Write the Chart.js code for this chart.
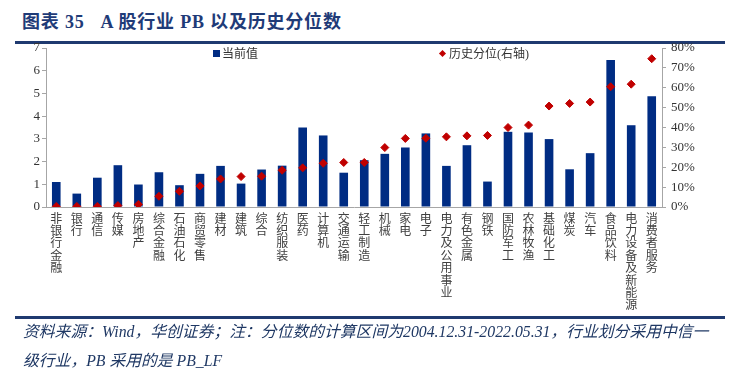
<!DOCTYPE html>
<html>
<head>
<meta charset="utf-8">
<script src="https://cdn.jsdelivr.net/npm/chart.js@4.4.0/dist/chart.umd.min.js"></script>
<style>
  body { margin: 0; background: #fff; }
  #wrap { position: relative; width: 731px; height: 374px; overflow: hidden; }
  #chart { position: absolute; left: 0; top: 0; }
  .title { position: absolute; left: 22px; top: 11px; font: bold 18px/22px "Liberation Serif", "Noto Sans CJK SC"; letter-spacing: 0.8px; color: #1f3b78; white-space: pre; }
  .rule { position: absolute; left: 15px; width: 710px; height: 3px; background: #1f3a70; }
  .note { position: absolute; left: 23px; top: 317px; font: italic 15.8px/29px "Liberation Serif", "Noto Sans CJK SC"; color: #1f3864; white-space: pre; }
  .legend { position: absolute; top: 44px; font: 12px "Liberation Serif", "Noto Sans CJK SC"; color: #333; white-space: pre; }
  .sq { display: inline-block; width: 7px; height: 7px; background: #002c83; margin-right: 2px; vertical-align: 1px; }
  .dm { display: inline-block; width: 5px; height: 5px; background: #c00000; transform: rotate(45deg); margin: 0 4px 0 2px; vertical-align: 2px; }
</style>
</head>
<body>
<div id="wrap">
  <div class="title">图表 35   A 股行业 PB 以及历史分位数</div>
  <div class="rule" style="top:41px"></div>
  <canvas id="chart" width="731" height="374"></canvas>
  <div class="legend" style="left:213px"><span class="sq"></span>当前值</div>
  <div class="legend" style="left:438px"><span class="dm"></span>历史分位(右轴)</div>
  <div class="rule" style="top:316px"></div>
  <div class="note">资料来源：Wind，华创证券；注：分位数的计算区间为2004.12.31-2022.05.31，行业划分采用中信一
级行业，PB 采用的是 PB_LF</div>
</div>
<script>
// industries, current PB and historical percentile (%)
const industries = ['非银行金融', '银行', '通信', '传媒', '房地产', '综合金融', '石油石化', '商贸零售', '建材', '建筑',
  '综合', '纺织服装', '医药', '计算机', '交通运输', '轻工制造', '机械', '家电', '电子', '电力及公用事业',
  '有色金属', '钢铁', '国防军工', '农林牧渔', '基础化工', '煤炭', '汽车', '食品饮料', '电力设备及新能源', '消费者服务'];
const pbNow = [1.10, 0.59, 1.29, 1.84, 0.99, 1.53, 0.96, 1.46, 1.81, 1.03,
  1.65, 1.82, 3.50, 3.15, 1.51, 2.06, 2.34, 2.62, 3.24, 1.81,
  2.72, 1.12, 3.31, 3.28, 2.99, 1.66, 2.37, 6.47, 3.60, 4.88];
const pctHist = [0.3, 0.3, 0.3, 0.7, 1.3, 5.4, 7.9, 10.6, 14.1, 15.3,
  15.5, 18.5, 19.7, 22.0, 22.4, 22.4, 29.9, 34.5, 34.6, 35.3,
  35.8, 36.0, 40.0, 41.2, 50.8, 52.1, 52.8, 60.5, 61.8, 74.6];

const tickFont = { family: 'Liberation Serif', size: 13 };
const axisGrey = '#a6a6a6';

new Chart(document.getElementById('chart'), {
  data: {
    labels: industries.map(s => s.split('')),
    datasets: [
      {
        type: 'line',
        label: '历史分位(右轴)',
        data: pctHist,
        yAxisID: 'y1',
        showLine: false,
        pointStyle: 'rectRot',
        pointRadius: 4,
        pointBackgroundColor: '#c00000',
        pointBorderColor: '#c00000',
        order: 1
      },
      {
        type: 'bar',
        label: '当前值',
        data: pbNow,
        yAxisID: 'y',
        backgroundColor: '#002c83',
        barPercentage: 0.42,
        categoryPercentage: 1,
        order: 2
      }
    ]
  },
  options: {
    responsive: false,
    animation: false,
    layout: { padding: { top: 48, left: 16, right: 20, bottom: 58 } },
    plugins: { legend: { display: false }, tooltip: { enabled: false } },
    scales: {
      x: {
        grid: { display: false, drawTicks: false, tickLength: 0 },
        border: { display: true, color: axisGrey, width: 1 },
        ticks: {
          autoSkip: false, maxRotation: 0, minRotation: 0, padding: 5, color: '#404040',
          font: { family: 'Noto Sans CJK SC', size: 12, lineHeight: 1.03 }
        },
        afterFit: s => { s.height = 109; }
      },
      y: {
        position: 'left',
        min: 0, max: 7,
        grid: { drawOnChartArea: false, tickLength: 4, color: axisGrey },
        border: { color: axisGrey },
        ticks: { stepSize: 1, padding: 2, color: '#333', font: tickFont },
        afterFit: s => { s.width = 30; }
      },
      y1: {
        position: 'right',
        min: 0, max: 80,
        grid: { drawOnChartArea: false, tickLength: 4, color: axisGrey },
        border: { color: axisGrey },
        ticks: { stepSize: 10, padding: 5, color: '#333', font: tickFont, callback: v => v + '%' },
        afterFit: s => { s.width = 49; }
      }
    }
  }
});
</script>
</body>
</html>
